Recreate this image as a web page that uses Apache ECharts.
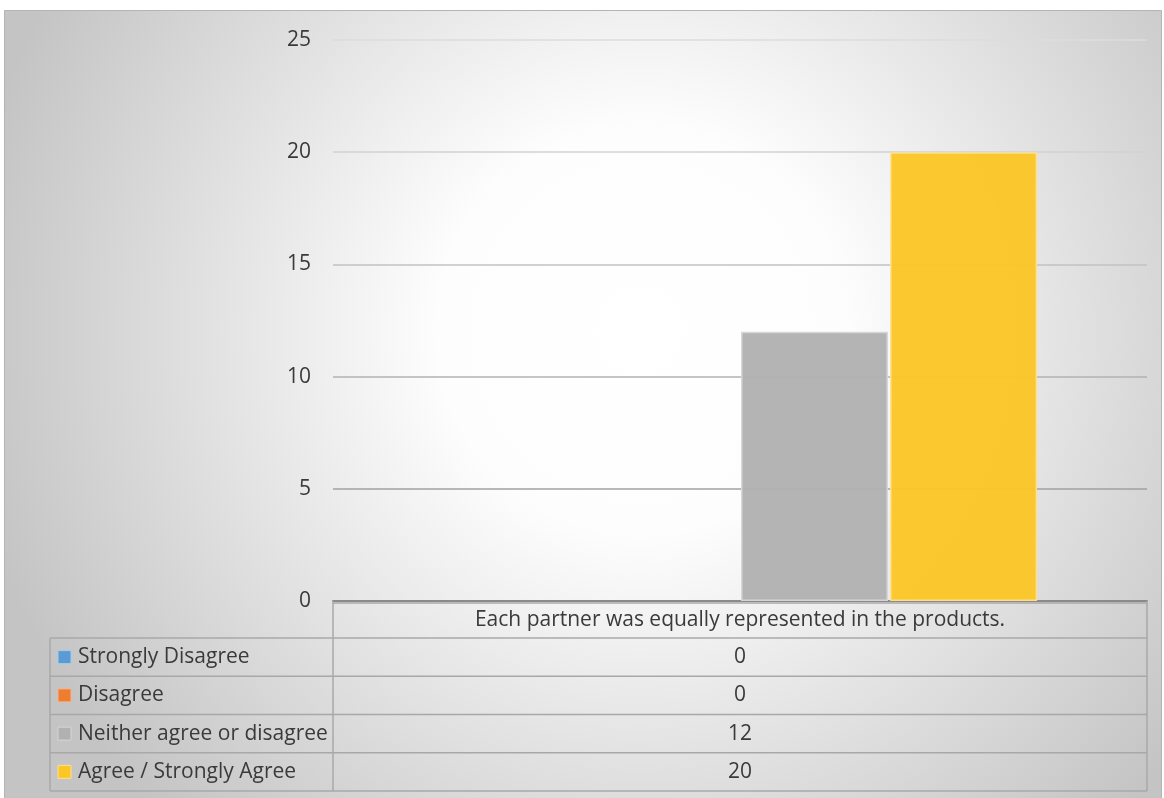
<!DOCTYPE html>
<html>
<head>
<meta charset="utf-8">
<script src="https://cdn.jsdelivr.net/npm/echarts@6/dist/echarts.min.js"></script>
<style>
html,body{margin:0;padding:0;background:#fff;}
#chart{width:1164px;height:798px;}
</style>
</head>
<body>
<div id="chart"></div>
<script>
// ---- data ----
const categories = ["Each partner was equally represented in the products."];
const seriesNames = ["Strongly Disagree", "Disagree", "Neither agree or disagree", "Agree / Strongly Agree"];
const stronglyDisagree = [0];
const disagree = [0];
const neither = [12];
const agree = [20];
const yTicks = [0, 5, 10, 15, 20, 25];

const seriesValues = [stronglyDisagree, disagree, neither, agree];
const colors = ["#5B9BD5", "#ED7D31", "#B1B1B1", "#FCC626"];
const borderColors = ["#a9cbe9", "#f5b68f", "#d6d6d6", "#fde08f"];

// ---- layout ----
const W = 1164, H = 798;
const plotLeft = 333, plotRight = 1147, plotTop = 40, plotBottom = 601;
const tableLeft = 50;
const headerBottom = 638;
const rowH = 38.25;
const textColor = "#3a3a3a";
const font = "'Open Sans', sans-serif";
const fs = 21;
const lineColor = "#a8a8a8";

const chart = echarts.init(document.getElementById('chart'), null, {renderer: 'canvas'});

const graphics = [];
// background
graphics.push({
  type: 'rect', z: -100, silent: true,
  shape: {x: 4.5, y: 10.5, width: 1157, height: 800},
  style: {
    fill: {type: 'radial', x: 0.55, y: 0.4, r: 0.85,
      colorStops: [{offset: 0, color: '#ffffff'}, {offset: 0.3, color: '#fdfdfd'}, {offset: 1, color: '#c4c4c4'}]},
    stroke: '#b4b4b4', lineWidth: 1
  }
});
// table lines
function hline(x1, x2, y) {
  graphics.push({type: 'line', silent: true, z: 50, shape: {x1: x1, y1: y, x2: x2, y2: y}, style: {stroke: lineColor, lineWidth: 1.5}});
}
function vline(x, y1, y2) {
  graphics.push({type: 'line', silent: true, z: 50, shape: {x1: x, y1: y1, x2: x, y2: y2}, style: {stroke: lineColor, lineWidth: 1.5}});
}
const tableBottom = headerBottom + rowH * seriesNames.length;
for (let i = 0; i <= seriesNames.length; i++) {
  hline(tableLeft, plotRight, headerBottom + rowH * i);
}
hline(plotLeft, plotRight, plotBottom + 2);
vline(plotLeft, plotBottom, tableBottom);
vline(plotRight, plotBottom, tableBottom);
vline(tableLeft, headerBottom, tableBottom);

seriesNames.forEach(function (name, i) {
  const cy = headerBottom + rowH * i + rowH / 2;
  graphics.push({type: 'rect', silent: true, z: 50,
    shape: {x: 58, y: cy - 6.5, width: 13, height: 13},
    style: {fill: colors[i], stroke: borderColors[i], lineWidth: 1}});
  graphics.push({type: 'text', silent: true, z: 50, x: 78, y: cy,
    style: {text: name, fill: textColor, font: fs + 'px ' + font, verticalAlign: 'middle', align: 'left'}});
  graphics.push({type: 'text', silent: true, z: 50, x: (plotLeft + plotRight) / 2, y: cy,
    style: {text: String(seriesValues[i][0]), fill: textColor, font: fs + 'px ' + font, verticalAlign: 'middle', align: 'center'}});
});

const option = {
  animation: false,
  grid: {left: plotLeft, right: W - plotRight, top: plotTop, bottom: H - plotBottom, containLabel: false},
  xAxis: {
    type: 'category', data: categories,
    axisLine: {show: true, lineStyle: {color: '#8a8a8a', width: 2}},
    axisTick: {show: false},
    axisLabel: {color: textColor, fontSize: fs, fontFamily: font, margin: 9}
  },
  yAxis: {
    type: 'value', min: 0, max: 25, interval: 5,
    axisLine: {show: false}, axisTick: {show: false},
    axisLabel: {color: textColor, fontSize: fs, fontFamily: font, margin: 22,
      formatter: function (v) { return yTicks.indexOf(v) >= 0 ? String(v) : ''; }},
    splitLine: {lineStyle: {color: ['#8a8a8a', '#a0a0a0', '#b2b2b2', '#c2c2c2', '#d2d2d2', '#dcdcdc'], width: 1.5}}
  },
  series: seriesNames.map(function (name, i) {
    return {
      name: name, type: 'bar',
      data: seriesValues[i].map(function (v) {
        return {value: v, itemStyle: {borderWidth: v === 0 ? 0 : 1.5}};
      }),
      barWidth: 147, barGap: '1.4%',
      itemStyle: {color: colors[i], borderColor: borderColors[i], opacity: 0.96}
    };
  }),
  graphic: graphics
};
chart.setOption(option);
</script>
</body>
</html>
